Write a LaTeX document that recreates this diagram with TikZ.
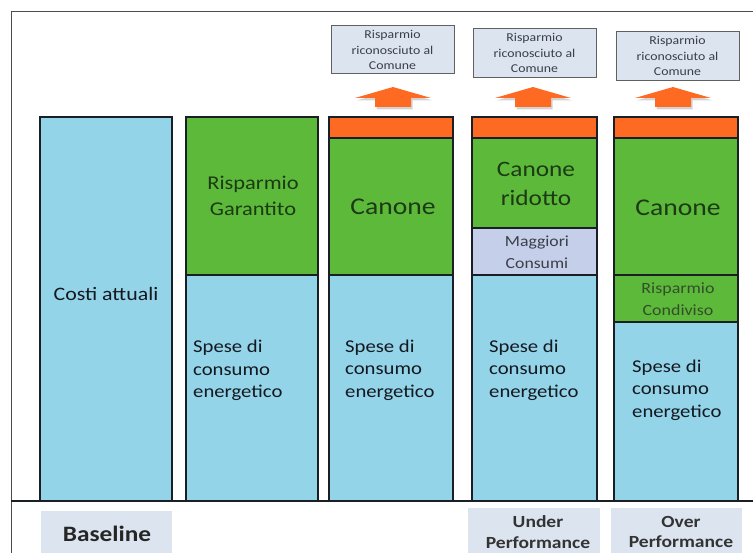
\documentclass[tikz,border=0pt]{standalone}
\usepackage{fontspec}
\usetikzlibrary{calc}
\setmainfont{Carlito}[FakeStretch=1.15]
\definecolor{cblue}{HTML}{93D4E9}
\definecolor{cgreen}{HTML}{5DB93A}
\definecolor{corange}{HTML}{FF6A22}
\definecolor{clav}{HTML}{C6CFEA}
\definecolor{clabel}{HTML}{DCE4F0}
\definecolor{cline}{HTML}{1A1F26}
\definecolor{cgtext}{HTML}{1C3A14}
\definecolor{cbtext}{HTML}{14181F}
\definecolor{cltext}{HTML}{3A3F48}
\begin{document}
\begin{tikzpicture}[x=1pt,y=-1pt,
  seg/.style={draw=cline,line width=1.5pt},
  toplabel/.style={draw=gray!75!black,fill=clabel,line width=0.8pt},
  botlabel/.style={fill=clabel},
  txt/.style={inner sep=0pt,align=center},
  spese/.style={inner sep=0pt,align=left,anchor=west,text=cbtext,font=\fontsize{18}{22.5}\selectfont},
  blockarrow/.style={fill=corange},
  arrowshadow/.style={fill=gray,opacity=0.35}
]
\useasboundingbox (0,0) rectangle (753,553);
% frame
\draw[gray!60!black,line width=1pt] (11,553) -- (11,12) -- (753,12);
\draw[cline,line width=1.2pt] (11,501) -- (753,501);
% column 1
\draw[seg,fill=cblue] (40,117) rectangle (172,501);
% column 2
\draw[seg,fill=cblue] (186,275) rectangle (318,501);
\draw[seg,fill=cgreen] (186,117) rectangle (318,275);
% column 3
\draw[seg,fill=cblue] (329,275) rectangle (453,501);
\draw[seg,fill=cgreen] (329,138) rectangle (453,275);
\draw[seg,fill=corange] (329,117) rectangle (453,138);
% column 4
\draw[seg,fill=cblue] (472,275) rectangle (597,501);
\draw[seg,fill=clav] (472,228) rectangle (597,275);
\draw[seg,fill=cgreen] (472,138) rectangle (597,228);
\draw[seg,fill=corange] (472,117) rectangle (597,138);
% column 5
\draw[seg,fill=cblue] (614,322) rectangle (738,501);
\draw[seg,fill=cgreen] (614,275) rectangle (738,322);
\draw[seg,fill=cgreen] (614,138) rectangle (738,275);
\draw[seg,fill=corange] (614,117) rectangle (738,138);
% arrows
\foreach \c in {393,533,673}{
  \fill[arrowshadow] ($(\c-38,98)+(1.5,2.5)$) -- ($(\c,87)+(1.5,2.5)$) -- ($(\c+38,98)+(1.5,2.5)$) -- ($(\c+18,98)+(1.5,2.5)$) -- ($(\c+18,107)+(1.5,2.5)$) -- ($(\c-18,107)+(1.5,2.5)$) -- ($(\c-18,98)+(1.5,2.5)$) -- cycle;
  \fill[blockarrow] (\c-38,98) -- (\c,87) -- (\c+38,98) -- (\c+18,98) -- (\c+18,107) -- (\c-18,107) -- (\c-18,98) -- cycle;
}
% top labels
\draw[toplabel] (331,25) rectangle (454,73);
\draw[toplabel] (473,28) rectangle (596,77);
\draw[toplabel] (616,31) rectangle (739,80);
\node[txt,text=cltext,font=\fontsize{12}{15.5}\selectfont] (r1) at (392.5,50) {Risparmio\\riconosciuto al\\Comune};
\node[txt,text=cltext,font=\fontsize{12}{15.5}\selectfont] (r2) at (534.5,53) {Risparmio\\riconosciuto al\\Comune};
\node[txt,text=cltext,font=\fontsize{12}{15.5}\selectfont] (r3) at (677.5,56) {Risparmio\\riconosciuto al\\Comune};
% bottom labels
\fill[botlabel] (41,511) rectangle (172,553);
\fill[botlabel] (468,508) rectangle (600,553);
\fill[botlabel] (611,508) rectangle (742,553);
\node[txt,text=black!85,font=\fontsize{22}{26}\bfseries\selectfont] (base) at (107,534) {Baseline};
\node[txt,text=black!80,font=\fontsize{17}{20.5}\bfseries\selectfont] (under) at (538,532) {Under\\Performance};
\node[txt,text=black!80,font=\fontsize{17}{20.5}\bfseries\selectfont] (over) at (681,532) {Over\\Performance};
% texts
\node[txt,text=cbtext,font=\fontsize{19}{23}\selectfont] (costi) at (106,294) {Costi attuali};
\node[txt,text=cgtext,font=\fontsize{19.5}{26}\selectfont] (rg) at (253,196) {Risparmio\\Garantito};
\node[txt,text=cgtext,font=\fontsize{24}{28}\selectfont] (can3) at (393,207) {Canone};
\node[txt,text=cgtext,font=\fontsize{22}{29}\selectfont] (canr) at (536,184) {Canone\\ridotto};
\node[txt,text=cltext,font=\fontsize{15.4}{22}\selectfont] (mag) at (537,252) {Maggiori\\Consumi};
\node[txt,text=cgtext,font=\fontsize{24}{28}\selectfont] (can5) at (678,208) {Canone};
\node[txt,text=cgtext!90!white,font=\fontsize{15.6}{22}\selectfont] (rc) at (678,299) {Risparmio\\Condiviso};
\node[spese] (s2) at (193,370.5) {Spese di\\consumo\\energetico};
\node[spese] (s3) at (345,370) {Spese di\\consumo\\energetico};
\node[spese] (s4) at (489,370) {Spese di\\consumo\\energetico};
\node[spese] (s5) at (632,390) {Spese di\\consumo\\energetico};
\end{tikzpicture}
\end{document}
